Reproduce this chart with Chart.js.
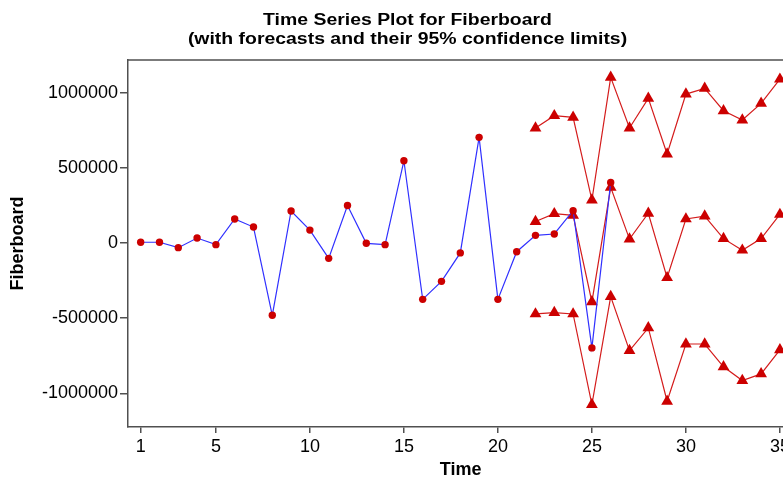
<!DOCTYPE html>
<html>
<head>
<meta charset="utf-8">
<script src="https://cdn.jsdelivr.net/npm/chart.js@4.4.0/dist/chart.umd.min.js"></script>
<style>
html,body{margin:0;padding:0;overflow:hidden;background:#fff;width:783px;height:481px}
#wrap{width:800px;height:481px}
</style>
</head>
<body>
<div id="wrap"><canvas id="c" width="800" height="481"></canvas></div>
<script>
// ---- data ----
const actualTime = [1,2,3,4,5,6,7,8,9,10,11,12,13,14,15,16,17,18,19,20,21,22,23,24,25,26];
const actualValues = [5000,5000,-31000,33000,-11000,160000,106000,-481000,213000,86000,
  -102000,250000,-2000,-11000,547000,-375000,-255000,-66000,703000,-375000,
  -58000,51000,60000,215000,-698000,403000];
const forecastTime = [22,23,24,25,26,27,28,29,30,31,32,33,34,35];
const forecastValues = [143000,195000,184000,-392000,370000,26000,198000,-231000,160000,179000,29000,-48000,30000,190000];
const upperValues = [765000,847000,836000,286000,1102000,765000,962000,592000,991000,1029000,880000,818000,929000,1090000];
const lowerValues = [-472000,-463000,-472000,-1075000,-357000,-716000,-565000,-1053000,-672000,-672000,-824000,-915000,-871000,-711000];
const xTickValues = [1,5,10,15,20,25,30,35];
const yTickValues = [-1000000,-500000,0,500000,1000000];
const titleLines = ['Time Series Plot for Fiberboard','(with forecasts and their 95% confidence limits)'];

const FONT = "'Liberation Sans', Arial, Helvetica, sans-serif";
const AXIS = '#505050';
const RED = '#cc0000';
const RED_LINE = '#d41c1c';
const BLUE = '#3030ff';

const pts = (xs, ys) => xs.map((x, i) => ({x: x, y: ys[i]}));

const forecastStyle = {
  borderColor: RED_LINE, borderWidth: 1.2,
  pointStyle: 'triangle', pointRadius: 6.8,
  pointBackgroundColor: RED, pointBorderColor: RED, pointBorderWidth: 0,
  tension: 0, fill: false
};

const framePlugin = {
  id: 'frame',
  beforeDatasetsDraw(chart) {
    const a = chart.chartArea, c = chart.ctx;
    c.save();
    c.strokeStyle = AXIS; c.lineWidth = 1.5;
    c.beginPath();
    c.moveTo(a.left, a.top); c.lineTo(a.right, a.top); c.lineTo(a.right, a.bottom);
    c.stroke();
    c.restore();
  }
};

const titlePlugin = {
  id: 'twoLineTitle',
  afterDraw(chart) {
    const c = chart.ctx;
    c.save();
    c.fillStyle = '#000';
    c.font = "bold 17.2px " + FONT;
    c.textAlign = 'center';
    c.textBaseline = 'alphabetic';
    c.translate(407.5, 0);
    c.scale(1.13, 1);
    c.fillText(titleLines[0], 0, 25);
    c.fillText(titleLines[1], 0, 44);
    c.restore();
  }
};

new Chart(document.getElementById('c'), {
  type: 'line',
  data: {
    datasets: [
      {
        label: 'Fiberboard',
        data: pts(actualTime, actualValues),
        borderColor: BLUE, borderWidth: 1.2,
        pointStyle: 'circle', pointRadius: 3.7,
        pointBackgroundColor: RED, pointBorderColor: RED, pointBorderWidth: 0,
        tension: 0, fill: false
      },
      Object.assign({label: 'Forecast', data: pts(forecastTime, forecastValues)}, forecastStyle),
      Object.assign({label: 'Upper', data: pts(forecastTime, upperValues)}, forecastStyle),
      Object.assign({label: 'Lower', data: pts(forecastTime, lowerValues)}, forecastStyle)
    ]
  },
  options: {
    responsive: false,
    animation: false,
    events: [],
    layout: {padding: {top: 60, right: 6, left: 0, bottom: 0}},
    plugins: {legend: {display: false}, tooltip: {enabled: false}, title: {display: false}},
    scales: {
      x: {
        type: 'linear', min: 0.3253, max: 35.707,
        afterBuildTicks: s => { s.ticks = xTickValues.map(v => ({value: v})); },
        afterFit: s => { s.height = 54; },
        grid: {drawOnChartArea: false, drawTicks: true, tickLength: 6, color: AXIS, lineWidth: 1.5},
        border: {display: true, color: AXIS, width: 1.5},
        ticks: {font: {family: FONT, size: 18}, color: '#000', padding: 3, maxRotation: 0, autoSkip: false,
                callback: v => String(v)},
        title: {display: true, text: 'Time', color: '#000', font: {family: FONT, size: 18, weight: 'bold'},
                padding: {top: 0, bottom: 0}}
      },
      y: {
        type: 'linear', min: -1224200, max: 1217600,
        afterBuildTicks: s => { s.ticks = yTickValues.map(v => ({value: v})); },
        afterFit: s => { s.width = 128; },
        grid: {drawOnChartArea: false, drawTicks: true, tickLength: 8, color: AXIS, lineWidth: 1.5},
        border: {display: true, color: AXIS, width: 1.5},
        ticks: {font: {family: FONT, size: 18}, color: '#000', padding: 2, autoSkip: false,
                callback: v => String(v)},
        title: {display: true, text: 'Fiberboard', color: '#000', font: {family: FONT, size: 18, weight: 'bold'},
                padding: {top: 7.5, bottom: 0}}
      }
    }
  },
  plugins: [framePlugin, titlePlugin]
});
</script>
</body>
</html>
